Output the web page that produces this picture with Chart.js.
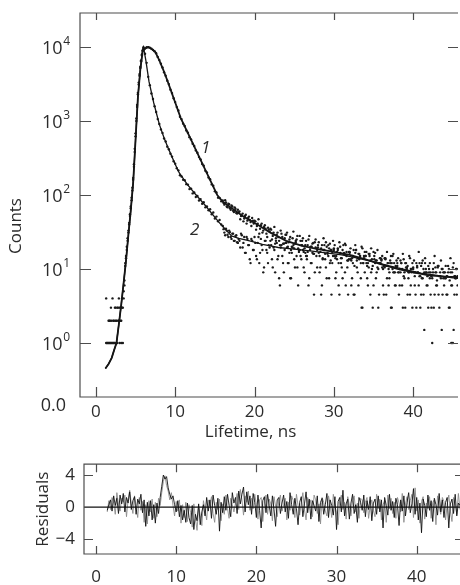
<!DOCTYPE html>
<html>
<head>
<meta charset="utf-8">
<script src="https://cdn.jsdelivr.net/npm/chart.js@4"></script>
<style>
  html, body { margin: 0; background: #fff; overflow: hidden; }
  canvas { display: block; }
</style>
</head>
<body>
<canvas id="decay" width="462" height="445"></canvas>
<canvas id="residuals" width="462" height="140"></canvas>
<script>
// rising edge, 0.1 ns channels (null = zero counts, not shown on log axis)
const riseTimes = [1.3,1.4,1.5,1.6,1.7,1.8,1.9,2.0,2.1,2.2,
  2.3,2.4,2.5,2.6,2.7,2.8,2.9,3.0,3.1,3.2,
  3.3,3.4,3.5,3.6,3.7,3.8,3.9,4.0,4.1,4.2,
  4.3,4.4,4.5,4.6,4.7,4.8,4.9,5.0,5.1,5.2,
  5.3,5.4,5.5,5.6,5.7,5.8,5.9];
const riseCounts1 = [1,1,null,1,1,2,1,2,1,1,
  2,1,3,2,1,3,2,1,3,2,
  3,1,4,6,11,15,18,26,33,42,
  55,70,92,125,170,260,420,680,1080,1650,
  2400,3300,4300,5400,6600,7900,8900];
const riseCounts2 = [4,null,1,2,2,1,3,1,4,2,
  1,3,2,1,3,2,4,3,2,1,
  4,3,5,7,12,14,20,24,31,40,
  52,66,85,115,160,240,380,620,1000,1550,
  2300,3100,4100,5200,6400,7700,9000];

// decay and tail, 0.2 ns channels
const decayTimes = [6.0,6.2,6.4,6.6,6.8,7.0,7.2,7.4,7.6,7.8,
  8.0,8.2,8.4,8.6,8.8,9.0,9.2,9.4,9.6,9.8,
  10.0,10.2,10.4,10.6,10.8,11.0,11.2,11.4,11.6,11.8,
  12.0,12.2,12.4,12.6,12.8,13.0,13.2,13.4,13.6,13.8,
  14.0,14.2,14.4,14.6,14.8,15.0,15.2,15.4,15.6,15.8,
  16.0,16.2,16.4,16.6,16.8,17.0,17.2,17.4,17.6,17.8,
  18.0,18.2,18.4,18.6,18.8,19.0,19.2,19.4,19.6,19.8,
  20.0,20.2,20.4,20.6,20.8,21.0,21.2,21.4,21.6,21.8,
  22.0,22.2,22.4,22.6,22.8,23.0,23.2,23.4,23.6,23.8,
  24.0,24.2,24.4,24.6,24.8,25.0,25.2,25.4,25.6,25.8,
  26.0,26.2,26.4,26.6,26.8,27.0,27.2,27.4,27.6,27.8,
  28.0,28.2,28.4,28.6,28.8,29.0,29.2,29.4,29.6,29.8,
  30.0,30.2,30.4,30.6,30.8,31.0,31.2,31.4,31.6,31.8,
  32.0,32.2,32.4,32.6,32.8,33.0,33.2,33.4,33.6,33.8,
  34.0,34.2,34.4,34.6,34.8,35.0,35.2,35.4,35.6,35.8,
  36.0,36.2,36.4,36.6,36.8,37.0,37.2,37.4,37.6,37.8,
  38.0,38.2,38.4,38.6,38.8,39.0,39.2,39.4,39.6,39.8,
  40.0,40.2,40.4,40.6,40.8,41.0,41.2,41.4,41.6,41.8,
  42.0,42.2,42.4,42.6,42.8,43.0,43.2,43.4,43.6,43.8,
  44.0,44.2,44.4,44.6,44.8,45.0,45.2,45.4,45.6];
const decayCounts1 = [9300,9600,9950,9900,9800,9450,9150,8750,8250,7350,
  6650,5950,5300,4550,4100,3500,3150,2650,2380,2030,
  1800,1540,1390,1140,1060,920,855,745,695,605,
  565,492,458,400,372,325,303,262,248,212,
  201,172,163,139,133,112,108,92,91,82,
  84,74,79,68,75,63,70,59,65,56,
  58,47,53,44,52,41,49,46,38,45,
  45,34,41,30,39,31,37,35,27,34,
  35,25,31,22,29,27,21,30,22,26,
  29,20,25,18,26,19,23,28,17,24,
  24,17,21,15,25,18,20,16,23,19,
  21,15,19,14,18,23,16,19,13,17,
  19,14,17,12,20,14,16,22,17,13,
  17,13,15,11,18,14,16,12,19,14,
  15,11,16,13,10,17,12,13,10,14,
  13,10,14,11,12,9,15,10,12,11,
  11,9,13,10,8,12,10,9,14,10,
  10,8,12,9,8,11,13,9,10,8,
  10,9,1,12,9,7,11,8,10,9,
  9,8,11,7,1,1,8,10,8];
const decayCounts2 = [9900,8100,6100,3950,3050,2350,1980,1580,1320,1060,
  910,770,690,580,530,450,415,360,330,285,
  265,230,215,185,178,160,158,140,138,120,
  122,105,108,94,97,84,88,76,80,68,
  70,62,64,55,58,48,51,44,46,40,
  38,31,35,29,33,27,30,24,28,23,
  25.5,19.5,28.5,22.5,16.5,27,21,13.5,25.5,18,
  27,15,22.5,12,25.5,18,10.5,24,16.5,21,
  24,13.5,19.5,9,22.5,15,6,21,12,18,
  22.5,12,16.5,7.5,19.5,13.5,24,10.5,18,15,
  21,10.5,16.5,13.5,6,19.5,12,22.5,9,15,
  19.5,9,4.5,13.5,21,10.5,16.5,7.5,18,12,
  18,7.5,13.5,6,16.5,10.5,21,9,15,4.5,
  16.5,6,12,4.5,18,9,13.5,7.5,3,15,
  15,7.5,10.5,4.5,13.5,6,16.5,9,3,12,
  13.5,6,10.5,4.5,12,7.5,3,15,9,6,
  12,4.5,9,6,13.5,3,10.5,7.5,4.5,9,
  10.5,6,3,9,12,4.5,7.5,1.5,9,6,
  9,4.5,7.5,3,10.5,6,4.5,9,1.5,7.5,
  7.5,4.5,9,3,6,10.5,4.5,7.5,6];

// extra tail channels, offset by 0.1 ns
const tailTimes = [16.1,16.3,16.5,16.7,16.9,17.1,17.3,17.5,17.7,17.9,
  18.1,18.3,18.5,18.7,18.9,19.1,19.3,19.5,19.7,19.9,
  20.1,20.3,20.5,20.7,20.9,21.1,21.3,21.5,21.7,21.9,
  22.1,22.3,22.5,22.7,22.9,23.1,23.3,23.5,23.7,23.9,
  24.1,24.3,24.5,24.7,24.9,25.1,25.3,25.5,25.7,25.9,
  26.1,26.3,26.5,26.7,26.9,27.1,27.3,27.5,27.7,27.9,
  28.1,28.3,28.5,28.7,28.9,29.1,29.3,29.5,29.7,29.9,
  30.1,30.3,30.5,30.7,30.9,31.1,31.3,31.5,31.7,31.9,
  32.1,32.3,32.5,32.7,32.9,33.1,33.3,33.5,33.7,33.9,
  34.1,34.3,34.5,34.7,34.9,35.1,35.3,35.5,35.7,35.9,
  36.1,36.3,36.5,36.7,36.9,37.1,37.3,37.5,37.7,37.9,
  38.1,38.3,38.5,38.7,38.9,39.1,39.3,39.5,39.7,39.9,
  40.1,40.3,40.5,40.7,40.9,41.1,41.3,41.5,41.7,41.9,
  42.1,42.3,42.5,42.7,42.9,43.1,43.3,43.5,43.7,43.9,
  44.1,44.3,44.5,44.7,44.9,45.1,45.3,45.5];
const tailCounts1 = [78,85,70,76,66,72,61,68,57,63,
  60,52,56,48,54,45,51,43,49,41,
  44,38,47,35,41,33,39,30,36,32,
  34,28,37,26,31,24,33,27,22,29,
  31,23,27,20,32,22,25,19,28,21,
  26,19,24,17,28,20,22,16,25,18,
  23,17,21,26,16,20,15,22,18,24,
  21,15,19,23,14,18,16,21,13,17,
  19,14,18,21,13,16,15,20,12,17,
  17,12,16,19,11,15,13,18,12,14,
  15,11,14,17,10,13,12,16,9,13,
  14,10,12,16,9,12,11,15,10,12,
  13,9,11,17,8,12,10,14,9,11,
  12,8,10,15,9,11,8,13,10,9,
  11,8,10,14,9,12,8,10];
const tailCounts2 = [34.5,28.5,33,27,31.5,25.5,30,24,28.5,22.5,
  24,30,19.5,27,16.5,25.5,21,12,24,18,
  22.5,13.5,27,16.5,21,9,24,18,12,19.5,
  21,10.5,18,24,13.5,7.5,19.5,15,9,22.5,
  19.5,12,7.5,16.5,21,10.5,15,6,18,13.5,
  18,9,15,21,7.5,12,16.5,4.5,19.5,10.5,
  16.5,10.5,6,18,13.5,7.5,21,12,4.5,15,
  15,9,18,4.5,12,7.5,16.5,6,10.5,13.5,
  13.5,7.5,4.5,16.5,10.5,6,15,3,12,9,
  12,6,15,9,3,13.5,7.5,10.5,4.5,12,
  10.5,4.5,13.5,7.5,6,12,3,9,6,10.5,
  9,6,12,3,7.5,10.5,4.5,9,6,3,
  9,4.5,10.5,6,3,7.5,4.5,12,6,3,
  7.5,3,9,4.5,6,10.5,3,7.5,4.5,6,
  7.5,4.5,3,9,6,1.5,7.5,4.5];

// fitted curves
const fit1Times = [1.2,1.6,2.0,2.3,2.6,2.9,3.2,3.5,3.8,4.1,4.4,4.7,5.0,5.3,5.6,
  5.9,6.2,6.6,7.0,7.5,8.0,8.5,9.0,9.5,10.0,10.7,11.5,12.5,13.5,14.5,
  15.3,16.0,16.5,17.5,18.5,19.5,20.5,22,24,26,28,30,32,34,36,38,40,42,44,46];
const fit1Counts = [0.45,0.52,0.63,0.8,1.0,1.8,3.3,6.5,13,29,62,145,550,2100,4900,
  8700,9500,10000,9440,8510,6610,4900,3550,2510,1780,1095,722,429,255,151,
  100,81,74,62,52,45,39,31,24,20.5,18.5,17,15.5,13.5,11.5,10,9,8.2,7.9,7.7];
const fit2Times = [1.2,1.6,2.0,2.3,2.6,2.9,3.2,3.5,3.8,4.1,4.4,4.7,5.0,5.3,5.6,
  5.9,6.0,6.3,6.7,7.3,8.0,8.6,9.2,10.0,10.5,11.5,12.5,13.8,15.5,17.1,
  18,19,20,21,22,23,25,27,29,31,33,35,37,39,41,43,45,46];
const fit2Counts = [0.45,0.52,0.63,0.8,1.0,1.8,3.3,6.5,13,29,62,145,550,2100,4900,
  9400,10000,6600,3400,1750,900,590,410,260,200,140,104,72,43,28,
  26,24.5,23,21.5,20.5,19.5,18.5,17.5,16.5,15.5,14,12.5,11,9.8,8.8,8.2,7.6,7.4];

// axes and annotations
const timeTicks = [0, 10, 20, 30, 40];
const countTicks = [1, 10, 100, 1000, 10000];
const countExponents = ['0', '1', '2', '3', '4'];
const curveNames = ['1', '2'];
const curveNameTimes = [13.85, 12.47];
const curveNameCounts = [431, 33.6];

// weighted residuals, 0.2 ns channels
const resTimes = [1.4,1.6,1.8,2.0,2.2,2.4,2.6,2.8,3.0,3.2,
  3.4,3.6,3.8,4.0,4.2,4.4,4.6,4.8,5.0,5.2,
  5.4,5.6,5.8,6.0,6.2,6.4,6.6,6.8,7.0,7.2,
  7.4,7.6,7.8,8.0,8.2,8.4,8.6,8.8,9.0,9.2,
  9.4,9.6,9.8,10.0,10.2,10.4,10.6,10.8,11.0,11.2,
  11.4,11.6,11.8,12.0,12.2,12.4,12.6,12.8,13.0,13.2,
  13.4,13.6,13.8,14.0,14.2,14.4,14.6,14.8,15.0,15.2,
  15.4,15.6,15.8,16.0,16.2,16.4,16.6,16.8,17.0,17.2,
  17.4,17.6,17.8,18.0,18.2,18.4,18.6,18.8,19.0,19.2,
  19.4,19.6,19.8,20.0,20.2,20.4,20.6,20.8,21.0,21.2,
  21.4,21.6,21.8,22.0,22.2,22.4,22.6,22.8,23.0,23.2,
  23.4,23.6,23.8,24.0,24.2,24.4,24.6,24.8,25.0,25.2,
  25.4,25.6,25.8,26.0,26.2,26.4,26.6,26.8,27.0,27.2,
  27.4,27.6,27.8,28.0,28.2,28.4,28.6,28.8,29.0,29.2,
  29.4,29.6,29.8,30.0,30.2,30.4,30.6,30.8,31.0,31.2,
  31.4,31.6,31.8,32.0,32.2,32.4,32.6,32.8,33.0,33.2,
  33.4,33.6,33.8,34.0,34.2,34.4,34.6,34.8,35.0,35.2,
  35.4,35.6,35.8,36.0,36.2,36.4,36.6,36.8,37.0,37.2,
  37.4,37.6,37.8,38.0,38.2,38.4,38.6,38.8,39.0,39.2,
  39.4,39.6,39.8,40.0,40.2,40.4,40.6,40.8,41.0,41.2,
  41.4,41.6,41.8,42.0,42.2,42.4,42.6,42.8,43.0,43.2,
  43.4,43.6,43.8,44.0,44.2,44.4,44.6,44.8,45.0,45.2,
  45.4];
const resBlack = [-0.4,0.3,0.9,-0.5,1.4,0.2,1.1,-0.8,1.5,0.4,
  1.7,-0.6,1.2,0.5,1.9,-0.3,0.8,1.3,-0.9,1.0,
  0.4,1.6,-0.7,0.9,-2.4,0.6,-1.1,0.8,-1.6,0.3,
  -2.0,0.5,-0.8,1.2,2.6,4.0,3.5,3.8,2.4,1.6,
  1.0,1.4,0.3,-0.6,0.8,-1.2,0.2,-1.6,-0.4,-1.9,
  0.5,-1.3,-2.1,0.2,-2.8,-0.9,-1.7,0.4,-2.2,-0.6,
  0.3,-1.1,1.2,-0.5,0.9,-1.4,1.5,0.2,-0.9,1.1,
  -3.0,0.6,-0.7,1.3,-0.4,1.6,0.2,-1.2,1.8,0.5,
  1.2,-0.8,2.0,0.4,1.6,2.5,-0.6,1.9,0.3,1.4,
  -0.9,1.7,0.6,-1.3,1.5,-0.4,-2.6,0.8,1.3,-0.7,
  1.6,0.2,-1.1,1.4,-0.3,-2.4,0.9,1.2,-0.8,0.5,
  1.5,-0.6,0.7,-1.4,1.8,0.3,-0.9,1.1,-0.2,-2.2,
  0.6,1.3,-1.2,0.4,1.9,-0.7,1.0,-1.5,0.8,0.2,
  -0.5,1.4,-1.8,0.6,1.1,-0.9,0.3,1.7,-1.3,0.9,
  0.2,-1.0,1.3,-2.8,0.7,1.2,-0.6,2.1,-1.1,0.4,
  1.0,-1.5,0.5,1.6,-0.8,0.3,-1.9,1.2,0.6,-0.4,
  1.5,-1.2,0.8,-0.3,1.3,-1.7,0.5,1.0,-0.9,1.4,
  -0.6,0.9,-2.6,1.2,0.2,-1.0,1.6,-0.4,0.7,-1.3,
  1.1,0.3,-2.3,0.9,-0.5,1.4,-1.1,0.6,1.8,-0.7,
  0.4,2.3,-0.9,1.2,-1.6,0.5,-3.2,1.0,0.2,-1.2,
  1.5,-0.4,0.8,-1.8,1.1,0.3,-1.0,1.7,-0.6,0.9,
  -1.3,0.6,1.2,-2.6,0.4,1.0,-0.8,1.6,-1.1,0.5,
  0.2];
const resGray = [-0.6,0.8,-0.3,1.2,0.5,-0.9,1.8,0.3,-0.5,1.1,
  0.6,1.5,-1.2,0.9,2.1,0.4,-0.8,1.4,0.2,-1.3,
  1.2,-0.4,0.7,-1.9,0.3,-2.1,0.8,-0.6,1.0,-1.4,
  0.6,-1.2,1.1,0.2,1.8,3.2,3.9,2.7,2.0,0.9,
  1.8,0.2,-1.1,0.7,-0.5,0.9,-2.0,0.3,-1.3,0.6,
  -1.8,0.3,-0.7,-2.5,0.4,-1.4,-2.9,0.1,-1.0,-2.3,
  0.8,-0.4,-1.6,0.9,0.1,1.3,-0.8,-1.9,0.6,-0.3,
  1.0,-1.7,0.4,-0.9,1.5,-0.2,-1.4,1.1,0.3,-0.6,
  0.5,1.7,-0.3,2.2,0.9,-1.0,1.4,0.6,2.0,-0.4,
  1.1,-0.2,1.6,0.3,-1.5,0.9,1.2,-1.8,0.4,1.5,
  -0.9,1.0,0.4,-1.7,1.3,0.1,-1.2,0.7,1.5,-0.5,
  0.3,1.1,-1.6,0.6,-0.4,1.4,0.8,-1.3,1.6,0.2,
  -1.0,0.5,1.8,-0.3,-1.6,1.2,0.2,0.9,-1.2,1.5,
  0.9,-0.8,0.4,-2.1,1.2,0.6,-0.5,-1.1,1.4,0.3,
  -1.3,1.6,0.1,-0.7,-2.2,0.8,1.5,-0.3,0.6,-1.5,
  1.3,0.2,-1.1,0.8,1.4,-0.6,0.5,-1.4,1.1,0.9,
  -0.7,0.6,1.2,-1.4,0.2,0.9,-0.4,-1.2,1.6,-0.2,
  1.0,-1.6,0.3,0.8,-1.9,1.5,-0.2,1.1,-0.8,0.6,
  -1.4,1.2,0.5,-0.6,1.7,-1.9,0.4,1.3,-0.3,0.8,
  1.6,-1.3,2.4,-0.5,0.9,-2.0,0.7,1.3,-1.5,0.5,
  -0.2,1.3,-1.4,0.6,0.9,-2.2,1.4,0.1,-0.9,1.2,
  0.7,-1.6,0.3,1.5,-0.5,-1.8,1.2,0.4,-0.9,1.7,
  -0.3];
const resTicks = [-4, 0, 4];

Chart.defaults.font.family = "'Open Sans', sans-serif";
Chart.defaults.color = "#2b2b2b";

const pts = (times, counts) =>
  times.map((t, i) => ({ x: t, y: counts[i] })).filter(p => p.y !== null);

// frame on left/top/bottom plus inward tick marks on all four sides
const panelFrame = {
  id: "panelFrame",
  afterDatasetsDraw(chart, args, o) {
    const { ctx, chartArea: a } = chart;
    const xs = chart.scales.x, ys = chart.scales.y;
    ctx.save();
    ctx.strokeStyle = "#4d4d4d";
    ctx.lineWidth = 1.2;
    ctx.beginPath();
    ctx.moveTo(a.right, a.top);
    ctx.lineTo(a.left, a.top);
    ctx.lineTo(a.left, a.bottom);
    ctx.lineTo(a.right, a.bottom);
    o.xTicks.forEach(v => {
      const px = Math.round(xs.getPixelForValue(v)) + 0.5;
      ctx.moveTo(px, a.bottom);
      ctx.lineTo(px, a.bottom - o.bottomLen);
      ctx.moveTo(px, a.top);
      ctx.lineTo(px, a.top + o.topLen);
    });
    o.yTicks.forEach(v => {
      const py = Math.round(ys.getPixelForValue(v)) + 0.5;
      ctx.moveTo(a.left, py);
      ctx.lineTo(a.left + o.leftLen, py);
      ctx.moveTo(a.right, py);
      ctx.lineTo(a.right - o.rightLen, py);
    });
    ctx.stroke();
    ctx.restore();
  }
};

// 10^n labels, the odd "0.0" at the bottom, axis titles and curve numbers
const decayLabels = {
  id: "decayLabels",
  afterDraw(chart) {
    const { ctx, chartArea: a } = chart;
    const xs = chart.scales.x, ys = chart.scales.y;
    const right = a.left - 10;
    ctx.save();
    ctx.fillStyle = "#2b2b2b";
    countTicks.forEach((v, i) => {
      const py = ys.getPixelForValue(v);
      ctx.font = "12px 'Open Sans'";
      ctx.textAlign = "left";
      ctx.textBaseline = "alphabetic";
      const w = ctx.measureText(countExponents[i]).width;
      ctx.fillText(countExponents[i], right - w, py - 2);
      ctx.font = "18px 'Open Sans'";
      ctx.textAlign = "right";
      ctx.fillText("10", right - w - 0.5, py + 7.5);
    });
    ctx.font = "18px 'Open Sans'";
    ctx.textAlign = "right";
    ctx.fillText("0.0", right - 4, a.bottom + 14);

    ctx.font = "17px 'Open Sans'";
    ctx.textAlign = "center";
    ctx.textBaseline = "middle";
    ctx.fillText("Lifetime, ns", xs.getPixelForValue(19.5), a.bottom + 35);
    ctx.save();
    ctx.translate(16, a.top + 213);
    ctx.rotate(-Math.PI / 2);
    ctx.fillText("Counts", 0, 0);
    ctx.restore();

    ctx.font = "italic 17px 'Open Sans'";
    curveNames.forEach((n, i) => {
      ctx.fillText(n, xs.getPixelForValue(curveNameTimes[i]), ys.getPixelForValue(curveNameCounts[i]));
    });
    ctx.restore();
  }
};

const dotStyle = { showLine: false, pointRadius: 1.2, pointBorderWidth: 0, pointBackgroundColor: "#1a1a1a" };
const lineStyle = { showLine: true, pointRadius: 0, borderColor: "#151515", tension: 0 };

new Chart(document.getElementById("decay"), {
  type: "scatter",
  data: {
    datasets: [
      { data: pts(fit1Times, fit1Counts), ...lineStyle, borderWidth: 1.8 },
      { data: pts(fit2Times, fit2Counts), ...lineStyle, borderWidth: 1.3 },
      { data: pts(riseTimes, riseCounts1), ...dotStyle },
      { data: pts(riseTimes, riseCounts2), ...dotStyle },
      { data: pts(decayTimes, decayCounts1), ...dotStyle },
      { data: pts(decayTimes, decayCounts2), ...dotStyle },
      { data: pts(tailTimes, tailCounts1), ...dotStyle },
      { data: pts(tailTimes, tailCounts2), ...dotStyle }
    ]
  },
  options: {
    responsive: false,
    animation: false,
    devicePixelRatio: 1,
    layout: { padding: { top: 13, left: 0, right: 0, bottom: 0 } },
    plugins: {
      legend: { display: false },
      tooltip: { enabled: false },
      panelFrame: { xTicks: timeTicks, yTicks: countTicks, bottomLen: 10, topLen: 7, leftLen: 11, rightLen: 10 }
    },
    scales: {
      x: {
        type: "linear", min: -2, max: 45.65,
        afterBuildTicks: s => { s.ticks = timeTicks.map(v => ({ value: v })); },
        afterFit: s => { s.height = 48; },
        grid: { display: false, drawTicks: false },
        border: { display: false },
        ticks: { font: { size: 17 }, padding: 5, maxRotation: 0, autoSkip: false }
      },
      y: {
        type: "logarithmic", min: 0.186, max: 28800,
        afterBuildTicks: s => { s.ticks = countTicks.map(v => ({ value: v })); },
        afterFit: s => { s.width = 80; },
        grid: { display: false, drawTicks: false },
        border: { display: false },
        ticks: { display: false }
      }
    }
  },
  plugins: [panelFrame, decayLabels]
});

new Chart(document.getElementById("residuals"), {
  type: "scatter",
  data: {
    datasets: [
      { data: [{ x: -1.5, y: 0 }, { x: 46, y: 0 }], ...lineStyle, borderColor: "#111", borderWidth: 1.3 },
      { data: pts(resTimes, resBlack), ...lineStyle, borderColor: "#111", borderWidth: 0.9 },
      { data: pts(resTimes, resGray), ...lineStyle, borderColor: "#8c8c8c", borderWidth: 0.9 }
    ]
  },
  options: {
    responsive: false,
    animation: false,
    devicePixelRatio: 1,
    layout: { padding: { top: 18, left: 0, right: 0, bottom: 0 } },
    plugins: {
      legend: { display: false },
      tooltip: { enabled: false },
      panelFrame: { xTicks: timeTicks, yTicks: [-4, 4], bottomLen: 8, topLen: 8, leftLen: 9, rightLen: 7 }
    },
    scales: {
      x: {
        type: "linear", min: -1.5, max: 45.65,
        afterBuildTicks: s => { s.ticks = timeTicks.map(v => ({ value: v })); },
        afterFit: s => { s.height = 31; },
        grid: { display: false, drawTicks: false },
        border: { display: false },
        ticks: { font: { size: 17 }, padding: 13, maxRotation: 0, autoSkip: false }
      },
      y: {
        type: "linear", min: -5.85, max: 5.35,
        afterBuildTicks: s => { s.ticks = resTicks.map(v => ({ value: v })); },
        afterFit: s => { s.width = 84; },
        grid: { display: false, drawTicks: false },
        border: { display: false },
        ticks: { font: { size: 17 }, padding: 9, callback: v => (v < 0 ? "\u2212" + Math.abs(v) : String(v)) },
        title: { display: true, text: "Residuals", font: { size: 17 }, padding: { top: 33, bottom: 0 } }
      }
    }
  },
  plugins: [panelFrame]
});
</script>
</body>
</html>
